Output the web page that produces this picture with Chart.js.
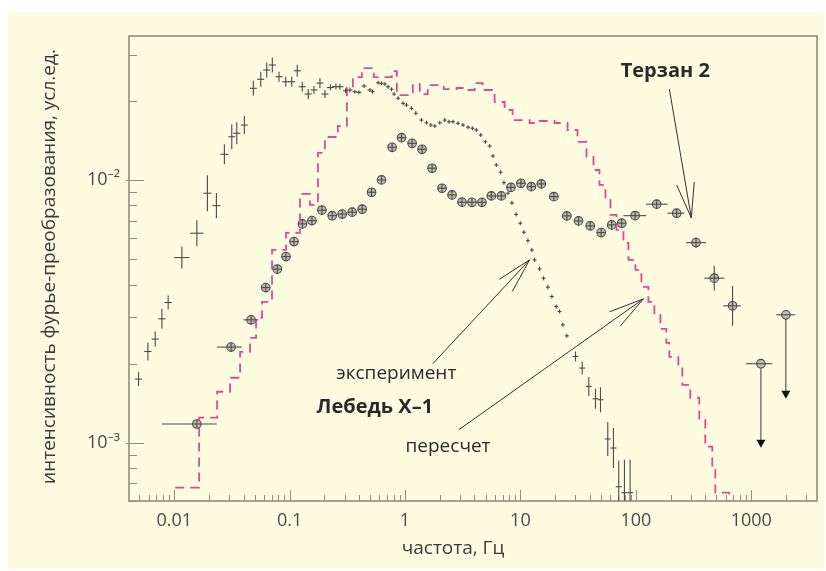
<!DOCTYPE html>
<html>
<head>
	<meta charset="utf-8">
	<script type="text/javascript" src="https://cdn.jsdelivr.net/npm/chart.js@4/dist/chart.umd.min.js"></script>
	<style type="text/css">
	body{
		margin: 0;
		background: #ffffff;
		font-family: "Open Sans", "Noto Sans", sans-serif;
	}
	</style>
</head>
<body>
	<canvas id="chart-area" width="826" height="571"></canvas>

	<script>

	// Лебедь X-1, эксперимент (частота, Гц / мощность, её погрешность как множитель, полуширина бина как множитель)
	var expFreq = [0.00491, 0.00592, 0.00685, 0.00783, 0.00887, 0.01166, 0.01572, 0.01941, 0.02322, 0.02723,
		0.03155, 0.03486, 0.04056, 0.04853, 0.05623, 0.06339, 0.07087, 0.08095, 0.09253, 0.1043,
		0.1166, 0.1288, 0.1451, 0.1626, 0.1832, 0.2025, 0.2259, 0.252, 0.2729, 0.3057,
		0.3331, 0.3679, 0.3984, 0.4428, 0.4961, 0.5234, 0.5852, 0.6262, 0.6688, 0.7141,
		0.7641, 0.8049, 0.8716, 0.9629, 1.030, 1.138, 1.24, 1.389, 1.535, 1.672,
		1.811, 2.0, 2.21, 2.407, 2.607, 2.88, 3.182, 3.514, 3.836, 4.155,
		4.527, 4.971, 5.416, 5.782, 6.187, 6.742, 7.2, 7.797, 8.443, 9.18,
		9.98, 10.72, 11.61, 12.58, 13.27, 14.66, 15.88, 17.29, 18.73, 20.44,
		21.83, 23.32, 25.26, 30.02, 34.32, 39.14, 44.73, 49.4, 57.15, 64.0,
		71.13, 79.68, 89.28];
	var expPower = [1.746e-3, 2.224e-3, 2.479e-3, 2.961e-3, 3.416e-3, 5.064e-3, 6.27e-3, 8.9e-3, 7.986e-3, 1.252e-2,
		1.46e-2, 1.505e-2, 1.618e-2, 2.232e-2, 2.415e-2, 2.62e-2, 2.737e-2, 2.471e-2, 2.364e-2, 2.364e-2,
		2.603e-2, 2.263e-2, 2.123e-2, 2.199e-2, 2.337e-2, 2.123e-2, 2.247e-2, 2.267e-2, 2.263e-2, 2.185e-2,
		2.199e-2, 2.166e-2, 2.155e-2, 2.277e-2, 2.199e-2, 2.166e-2, 2.344e-2, 2.332e-2, 2.317e-2, 2.263e-2,
		2.213e-2, 2.123e-2, 2.045e-2, 1.957e-2, 1.928e-2, 1.873e-2, 1.793e-2, 1.69e-2, 1.651e-2, 1.618e-2,
		1.604e-2, 1.651e-2, 1.69e-2, 1.666e-2, 1.666e-2, 1.643e-2, 1.618e-2, 1.587e-2, 1.573e-2, 1.549e-2,
		1.483e-2, 1.398e-2, 1.347e-2, 1.234e-2, 1.14e-2, 1.07e-2, 9.766e-3, 8.9e-3, 8.177e-3, 7.393e-3,
		6.845e-3, 6.325e-3, 5.875e-3, 5.418e-3, 4.963e-3, 4.587e-3, 4.228e-3, 3.908e-3, 3.6e-3, 3.299e-3,
		3.157e-3, 2.81e-3, 2.551e-3, 2.129e-3, 1.923e-3, 1.637e-3, 1.47e-3, 1.457e-3, 1.033e-3, 9.546e-4,
		6.8e-4, 6.454e-4, 6.454e-4];
	var expErr = [1.063, 1.082, 1.068, 1.092, 1.063, 1.101, 1.121, 1.171, 1.116, 1.092,
		1.116, 1.101, 1.082, 1.068, 1.068, 1.068, 1.068, 1.045, 1.045, 1.045,
		1.054, 1.045, 1.045, 1.036, 1.045, 1.036, 1.027, 1.027, 1.027, 1.022,
		1.022, 1.018, 1.018, 1.018, 1.018, 1.018, 1.018, 1.018, 1.018, 1.018,
		1.018, 1.018, 1.018, 1.018, 1.018, 1.018, 1.018, 1.018, 1.018, 1.018,
		1.018, 1.018, 1.018, 1.018, 1.018, 1.018, 1.018, 1.018, 1.018, 1.018,
		1.018, 1.018, 1.018, 1.018, 1.018, 1.018, 1.018, 1.018, 1.018, 1.018,
		1.018, 1.018, 1.018, 1.018, 1.018, 1.018, 1.018, 1.018, 1.018, 1.018,
		1.018, 1.018, 1.018, 1.045, 1.058, 1.087, 1.092, 1.116, 1.16, 1.191,
		1.256, 1.335, 1.335];
	var expBin = [1.075, 1.075, 1.075, 1.075, 1.075, 1.166, 1.143, 1.083, 1.083, 1.083,
		1.072, 1.072, 1.072, 1.072, 1.072, 1.072, 1.072, 1.072, 1.072, 1.072,
		1.072, 1.072, 1.072, 1.072, 1.072, 1.072, 1.072, 1.072, 1.072, 1.05,
		1.05, 1.05, 1.05, 1.05, 1.05, 1.04, 1.04, 1.04, 1.04, 1.04,
		1.04, 1.04, 1.04, 1.04, 1.04, 1.04, 1.04, 1.04, 1.04, 1.04,
		1.04, 1.04, 1.04, 1.04, 1.04, 1.04, 1.04, 1.04, 1.04, 1.04,
		1.04, 1.04, 1.04, 1.04, 1.04, 1.04, 1.04, 1.04, 1.04, 1.04,
		1.04, 1.04, 1.04, 1.04, 1.04, 1.04, 1.04, 1.04, 1.04, 1.04,
		1.04, 1.04, 1.04, 1.06, 1.06, 1.06, 1.06, 1.06, 1.06, 1.06,
		1.06, 1.06, 1.06];

	// Лебедь X-1, пересчет: ступенчатая кривая (левый край бина, уровень)
	var recalcFreq = [0.0102, 0.01645, 0.02355, 0.03051, 0.03724, 0.04544, 0.05121, 0.0577, 0.07044, 0.09309,
		0.123, 0.1501, 0.1761, 0.2025, 0.2622, 0.3136, 0.3536, 0.4229, 0.5372, 0.7689,
		0.8494, 1.168, 1.343, 1.575, 2.166, 2.806, 3.292, 4.017, 4.71, 5.981,
		7.3, 8.56, 12.01, 14.66, 19.76, 25.61, 31.25, 37.39, 42.98, 48.43,
		54.58, 60.3, 67.96, 78.11, 86.3, 99.2, 111.8, 128.5, 144.8, 163.3,
		183.9, 195.3, 233.6, 253, 296.8, 354.9, 400.1, 459.8, 488.2, 645.2];
	var recalcPower = [6.745e-4, 1.245e-3, 1.563e-3, 1.767e-3, 2.218e-3, 2.507e-3, 2.987e-3, 3.437e-3, 5.418e-3, 6.288e-3,
		8.846e-3, 8.035e-3, 1.267e-2, 1.457e-2, 1.604e-2, 2.238e-2, 2.464e-2, 2.666e-2, 2.464e-2, 2.597e-2,
		2.104e-2, 2.317e-2, 2.123e-2, 2.297e-2, 2.218e-2, 2.238e-2, 2.199e-2, 2.337e-2, 2.199e-2, 1.98e-2,
		1.846e-2, 1.69e-2, 1.647e-2, 1.676e-2, 1.647e-2, 1.549e-2, 1.395e-2, 1.223e-2, 1.091e-2, 9.572e-3,
		8.395e-3, 7.358e-3, 6.454e-3, 5.759e-3, 4.963e-3, 4.547e-3, 3.918e-3, 3.437e-3, 3.067e-3, 2.713e-3,
		2.4e-3, 2.123e-3, 1.945e-3, 1.661e-3, 1.483e-3, 1.223e-3, 9.656e-4, 7.895e-4, 6.454e-4, 1e-4];

	// Терзан 2
	var terzFreq = [0.01572, 0.03112, 0.04636, 0.06213, 0.07828, 0.09309, 0.1092, 0.1293, 0.1562, 0.1907,
		0.234, 0.2857, 0.3487, 0.4255, 0.5131, 0.6262, 0.7733, 0.9326, 1.152, 1.406,
		1.716, 2.094, 2.556, 3.118, 3.805, 4.645, 5.6, 6.836, 8.277, 10.1,
		12.43, 15.17, 19.49, 25.26, 31.88, 40.25, 50.1, 61.87, 75.51, 98.6,
		151.6, 225.9, 332.4, 478.6, 689];
	var terzPower = [1.178e-3, 2.312e-3, 2.935e-3, 3.894e-3, 4.575e-3, 5.108e-3, 5.825e-3, 6.803e-3, 7.001e-3, 7.672e-3,
		7.31e-3, 7.413e-3, 7.538e-3, 7.737e-3, 8.977e-3, 1.0e-2, 1.331e-2, 1.448e-2, 1.378e-2, 1.308e-2,
		1.108e-2, 9.299e-3, 8.769e-3, 8.228e-3, 8.22e-3, 8.22e-3, 8.692e-3, 8.692e-3, 9.365e-3, 9.716e-3,
		9.43e-3, 9.656e-3, 8.639e-3, 7.296e-3, 6.983e-3, 6.684e-3, 6.303e-3, 6.743e-3, 6.845e-3, 7.313e-3,
		8.086e-3, 7.471e-3, 5.774e-3, 4.228e-3, 3.319e-3];
	var terzBinLo = [0.00783, 0.02355, 0.03977, null, null, null, null, null, null, null,
		null, null, null, null, null, null, null, null, null, null,
		null, null, null, null, null, null, null, null, null, null,
		null, null, null, null, null, null, null, null, null, 78.1,
		122.8, 187.7, 272.4, 392.1, 572.5];
	var terzBinHi = [0.02341, 0.03852, 0.05359, null, null, null, null, null, null, null,
		null, null, null, null, null, null, null, null, null, null,
		null, null, null, null, null, null, null, null, null, null,
		null, null, null, null, null, null, null, null, null, 122.8,
		188.8, 263.3, 405.6, 584, 814.5];
	var terzErr = [1, 1, 1, 1, 1, 1, 1, 1, 1, 1,
		1, 1, 1, 1, 1, 1, 1, 1, 1, 1,
		1, 1, 1, 1, 1, 1, 1, 1, 1, 1,
		1, 1, 1, 1, 1, 1, 1, 1, 1, 1,
		1, 1, 1.045, 1.115, 1.19];

	// Терзан 2, верхние пределы
	var limFreq = [1213, 1996];
	var limPower = [1.998e-3, 3.067e-3];
	var limTo = [9.57e-4, 1.47e-3];
	var limLo = [905, 1646];
	var limHi = [1520, 2402];

	var xTicksShown = [0.01, 0.1, 1, 10, 100, 1000];
	var yTicksShown = {'-2': '10\u207B\u00B2', '-3': '10\u207B\u00B3'};

	var notes = [
		{text: 'Терзан 2', bold: true, x: 180, y: 2.6e-2},
		{text: 'эксперимент', bold: false, x: 0.841, y: 1.83e-3},
		{text: 'Лебедь X\u20131', bold: true, x: 0.548, y: 1.358e-3},
		{text: 'пересчет', bold: false, x: 2.36, y: 9.66e-4}
	];
	var arrows = [
		{x0: 195.3, y0: 2.218e-2, x1: 302.7, y1: 7.17e-3},
		{x0: 1.74, y0: 1.998e-3, x1: 12.01, y1: 4.963e-3},
		{x0: 2.921, y0: 1.12e-3, x1: 116.4, y1: 3.528e-3}
	];

	var FONT = '"Open Sans", "Noto Sans", sans-serif';
	var INK = '#4a4a4a';
	var R = 4.3;

	function pts(xs, ys) {
		return xs.map(function (v, i) { return {x: v, y: ys[i]}; });
	}

	function isDecade(v) {
		var e = Math.log10(v);
		return Math.abs(e - Math.round(e)) < 1e-6;
	}

	function seg(ctx, a, b, c, d) {
		ctx.beginPath();
		ctx.moveTo(a, b);
		ctx.lineTo(c, d);
		ctx.stroke();
	}

	var framePlugin = {
		id: 'frame',
		beforeDraw: function (chart) {
			var ctx = chart.ctx;
			ctx.save();
			ctx.fillStyle = '#fdfbe0';
			ctx.fillRect(8, 12, 816, 557);
			ctx.restore();
		},
		beforeDatasetsDraw: function (chart) {
			var ctx = chart.ctx, a = chart.chartArea, x = chart.scales.x, y = chart.scales.y;
			ctx.save();
			ctx.strokeStyle = '#8e8d7e';
			ctx.lineWidth = 1;
			for (var e = -3; e <= 3; e++) {
				for (var m = 1; m < 10; m++) {
					var v = m * Math.pow(10, e);
					if (v <= x.min || v >= x.max) continue;
					var p = Math.round(x.getPixelForValue(v)) + 0.5;
					seg(ctx, p, a.bottom, p, a.bottom - (m === 1 ? 11 : 6));
				}
			}
			for (e = -4; e <= -1; e++) {
				for (m = 1; m < 10; m++) {
					v = m * Math.pow(10, e);
					if (v <= y.min || v >= y.max) continue;
					p = Math.round(y.getPixelForValue(v)) + 0.5;
					seg(ctx, a.left - (m === 1 ? 3 : 0), p, a.left + (m === 1 ? 15 : 8), p);
				}
			}
			ctx.lineWidth = 1.6;
			ctx.strokeRect(a.left, a.top, a.right - a.left, a.bottom - a.top);
			ctx.restore();
		}
	};

	var marksPlugin = {
		id: 'marks',
		afterDatasetsDraw: function (chart) {
			var ctx = chart.ctx, a = chart.chartArea, x = chart.scales.x, y = chart.scales.y;
			ctx.save();
			ctx.beginPath();
			ctx.rect(a.left, a.top, a.right - a.left, a.bottom - a.top);
			ctx.clip();
			ctx.strokeStyle = INK;
			ctx.lineWidth = 1.1;

			// кресты эксперимента
			expFreq.forEach(function (f, i) {
				var px = x.getPixelForValue(f), py = y.getPixelForValue(expPower[i]);
				seg(ctx, x.getPixelForValue(f / expBin[i]), py, x.getPixelForValue(f * expBin[i]), py);
				seg(ctx, px, y.getPixelForValue(expPower[i] / expErr[i]), px, y.getPixelForValue(expPower[i] * expErr[i]));
			});

			// Терзан 2: крест внутри кружка и погрешности
			var meta = chart.getDatasetMeta(2);
			meta.data.forEach(function (pt, i) {
				var xl = terzBinLo[i] ? x.getPixelForValue(terzBinLo[i]) : pt.x - R;
				var xr = terzBinHi[i] ? x.getPixelForValue(terzBinHi[i]) : pt.x + R;
				var yt = Math.min(y.getPixelForValue(terzPower[i] * terzErr[i]), pt.y - R);
				var yb = Math.max(y.getPixelForValue(terzPower[i] / terzErr[i]), pt.y + R);
				seg(ctx, xl, pt.y, xr, pt.y);
				seg(ctx, pt.x, yt, pt.x, yb);
			});

			// верхние пределы
			var lmeta = chart.getDatasetMeta(3);
			lmeta.data.forEach(function (pt, i) {
				var tip = y.getPixelForValue(limTo[i]);
				seg(ctx, x.getPixelForValue(limLo[i]), pt.y, x.getPixelForValue(limHi[i]), pt.y);
				seg(ctx, pt.x, pt.y + R, pt.x, tip - 6);
				ctx.fillStyle = '#111';
				ctx.beginPath();
				ctx.moveTo(pt.x - 4.5, tip - 8);
				ctx.lineTo(pt.x + 4.5, tip - 8);
				ctx.lineTo(pt.x, tip);
				ctx.closePath();
				ctx.fill();
			});
			ctx.restore();

			// подписи и стрелки
			ctx.save();
			ctx.strokeStyle = '#333';
			ctx.lineWidth = 1;
			arrows.forEach(function (ar) {
				var ax = x.getPixelForValue(ar.x0), ay = y.getPixelForValue(ar.y0);
				var bx = x.getPixelForValue(ar.x1), by = y.getPixelForValue(ar.y1);
				seg(ctx, ax, ay, bx, by);
				var ang = Math.atan2(ay - by, ax - bx);
				[-0.25, 0.25].forEach(function (d) {
					seg(ctx, bx, by, bx + 36 * Math.cos(ang + d), by + 36 * Math.sin(ang + d));
				});
			});
			ctx.fillStyle = '#2a2a2a';
			ctx.textAlign = 'center';
			ctx.textBaseline = 'middle';
			notes.forEach(function (n) {
				ctx.font = (n.bold ? 'bold 20px ' : '19px ') + FONT;
				ctx.fillText(n.text, x.getPixelForValue(n.x), y.getPixelForValue(n.y));
			});

			// подписи осей
			ctx.fillStyle = '#3a3a3a';
			ctx.font = '19px ' + FONT;
			ctx.fillText('частота, Гц', a.left + (a.right - a.left) * 0.471, 549);
			ctx.translate(50, (a.top + a.bottom) / 2 - 2);
			ctx.rotate(-Math.PI / 2);
			ctx.font = '19px ' + FONT;
			ctx.fillText('интенсивность фурье-преобразования, усл.ед.', 0, 0);
			ctx.restore();
		}
	};

	var config = {
		type: 'scatter',
		data: {
			datasets: [{
				type: 'line',
				data: pts(recalcFreq, recalcPower),
				stepped: true,
				borderColor: '#e2488e',
				borderWidth: 1.8,
				borderDash: [9, 6],
				pointRadius: 0,
				fill: false
			}, {
				data: pts(expFreq, expPower),
				pointRadius: 0
			}, {
				data: pts(terzFreq, terzPower),
				pointRadius: R,
				pointBackgroundColor: '#bdbdb0',
				pointBorderColor: INK,
				pointBorderWidth: 1.1
			}, {
				data: pts(limFreq, limPower),
				pointRadius: R,
				pointBackgroundColor: '#bdbdb0',
				pointBorderColor: INK,
				pointBorderWidth: 1.1
			}]
		},
		options: {
			responsive: false,
			animation: false,
			layout: {padding: {top: 36, right: 7, left: 0, bottom: 0}},
			plugins: {
				legend: {display: false},
				tooltip: {enabled: false}
			},
			scales: {
				x: {
					type: 'logarithmic',
					min: 0.00406,
					max: 3715,
					grid: {display: false, drawTicks: false},
					border: {display: false},
					ticks: {
						autoSkip: false,
						maxRotation: 0,
						padding: 9,
						color: INK,
						font: {family: FONT, size: 18},
						callback: function (v) {
							return xTicksShown.some(function (t) { return Math.abs(t / v - 1) < 1e-6; }) ? String(+v.toPrecision(6)) : '';
						}
					},
					afterFit: function (s) { s.height = 70; }
				},
				y: {
					type: 'logarithmic',
					min: 6.02e-4,
					max: 3.53e-2,
					grid: {display: false, drawTicks: false},
					border: {display: false},
					ticks: {
						autoSkip: false,
						padding: 9,
						color: INK,
						font: {family: FONT, size: 18},
						callback: function (v) {
							if (!isDecade(v)) return '';
							return yTicksShown[String(Math.round(Math.log10(v)))] || '';
						}
					},
					afterFit: function (s) { s.width = 129; }
				}
			}
		},
		plugins: [framePlugin, marksPlugin]
	};

	window.onload = function () {
		var ctx = document.getElementById('chart-area').getContext('2d');
		new Chart(ctx, config);
	};

	</script>
</body>
</html>
